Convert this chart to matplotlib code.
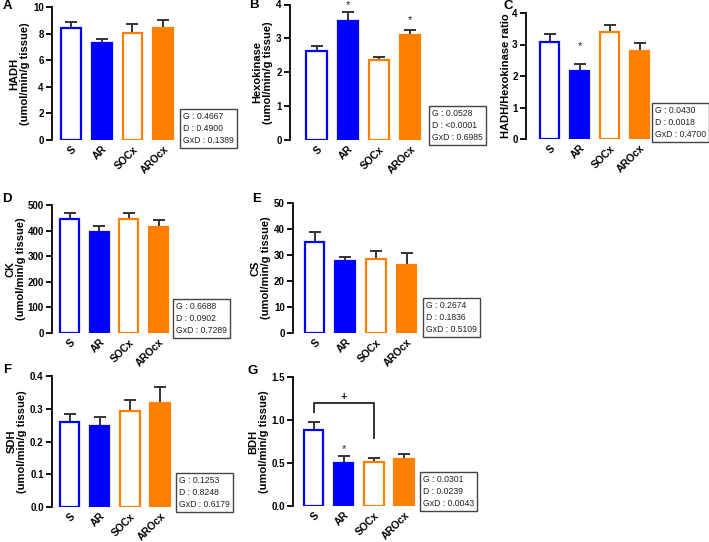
import numpy as np
import matplotlib
matplotlib.use("Agg")
import matplotlib.pyplot as plt

plt.rcParams['font.family'] = ['Liberation Sans', 'DejaVu Sans']
plt.rcParams['font.weight'] = 'bold'

# -----------------------------
# Data
# -----------------------------
groups = ['S', 'AR', 'SOCx', 'AROcx']

hadh = [8.42, 7.29, 8.05, 8.42]
hadh_err = [0.45, 0.30, 0.67, 0.60]
hexo = [2.63, 3.51, 2.36, 3.10]
hexo_err = [0.14, 0.27, 0.10, 0.16]
ratio = [3.09, 2.17, 3.39, 2.79]
ratio_err = [0.24, 0.20, 0.23, 0.27]
ck = [444, 396, 445, 413]
ck_err = [26, 23, 22, 28]
cs = [34.9, 27.8, 28.5, 26.0]
cs_err = [3.8, 1.3, 3.0, 4.6]
sdh = [0.259, 0.247, 0.293, 0.318]
sdh_err = [0.024, 0.028, 0.033, 0.047]
bdh = [0.88, 0.50, 0.508, 0.55]
bdh_err = [0.097, 0.085, 0.047, 0.05]

stats = {
    'A': ['0.4667', '0.4900', '0.1389'],
    'B': ['0.0528', '<0.0001', '0.6985'],
    'C': ['0.0430', '0.0018', '0.4700'],
    'D': ['0.6688', '0.0902', '0.7289'],
    'E': ['0.2674', '0.1836', '0.5109'],
    'F': ['0.1253', '0.8248', '0.6179'],
    'G': ['0.0301', '0.0239', '0.0043'],
}

# significance stars: panel -> list of (bar index, y)
stars = {'B': [(1, 3.98), (3, 3.55)], 'C': [(1, 2.95)], 'G': [(1, 0.66)]}

blue = '#0000FF'
orange = '#FF8000'
edge_cols = [blue, blue, orange, orange]
face_cols = ['white', blue, 'white', orange]

W, H = 709, 542
fig = plt.figure(figsize=(W / 100, H / 100), dpi=100)

# panel layout in pixels: yaxis x, first bar centre, pitch, top, bottom,
# stats box (left, top), panel letter (x, y), y label centre x
panels = [
    ('A', hadh, hadh_err, 'HADH\n(umol/min/g tissue)', (0, 10), 2, 52, 71, 30.7, 7, 140, (180, 109), (7, 6), 20),
    ('B', hexo, hexo_err, 'Hexokinase\n(umol/min/g tissue)', (0, 4), 1, 290, 316.5, 31.3, 4.5, 140, (429, 106), (254, 5), 263),
    ('C', ratio, ratio_err, 'HADH/Hexokinase ratio', (0, 4), 1, 526, 549.5, 30, 13, 139, (652, 103), (508, 6), 506),
    ('D', ck, ck_err, 'CK\n(umol/min/g tissue)', (0, 500), 100, 52, 69.5, 29.7, 205, 333, (173, 299), (7, 199), 16),
    ('E', cs, cs_err, 'CS\n(umol/min/g tissue)', (0, 50), 10, 293, 314.5, 30.7, 203, 333, (423, 298), (257, 199), 261),
    ('F', sdh, sdh_err, 'SDH\n(umol/min/g tissue)', (0, 0.4), 0.1, 52, 69.5, 30.2, 376, 507, (176, 473), (7, 370), 17),
    ('G', bdh, bdh_err, 'BDH\n(umol/min/g tissue)', (0, 1.5), 0.5, 293, 313.5, 30.2, 377, 506, (420, 472), (253, 371), 259),
]

x = np.arange(len(groups))
for (letter, vals, errs, ylab, ylim, step, yax, c0, pitch, top, bot,
     box, lab, ylx) in panels:
    x0 = -(c0 - yax) / pitch
    x1 = 3.5
    ax = fig.add_axes([yax / W, 1 - bot / H, (x1 - x0) * pitch / W, (bot - top) / H])
    ax.bar(x, vals, width=0.64, color=face_cols, edgecolor=edge_cols,
           linewidth=1.6, zorder=2)
    ax.errorbar(x, vals, yerr=[np.zeros(4), errs], fmt='none',
                ecolor='#333333', elinewidth=1.4, capsize=4.5, capthick=1.4,
                zorder=1)
    ax.set_xlim(x0, x1)
    ax.set_ylim(*ylim)
    ax.set_yticks(np.arange(ylim[0], ylim[1] + step / 2, step))
    if step < 1:
        ax.set_yticklabels(['%.1f' % t for t in ax.get_yticks()])
    ax.set_xticks(x)
    ax.set_xticklabels(groups, rotation=45, ha='right', rotation_mode='anchor')
    for s in ['top', 'right', 'bottom']:
        ax.spines[s].set_visible(False)
    ax.spines['left'].set_linewidth(1.3)
    ax.tick_params(axis='y', length=4, width=1.3, labelsize=7, pad=2)
    ax.tick_params(axis='x', length=0, labelsize=7.5, pad=3)

    fig.text(ylx / W, 1 - (top + bot) / 2 / H, ylab, rotation=90,
             ha='center', va='center', multialignment='center',
             fontsize=8, fontweight='bold', linespacing=1.1)

    for i, yv in stars.get(letter, []):
        ax.text(i, yv, '*', ha='center', va='center', fontsize=8,
                fontweight='normal', color='#222222')

    if letter == 'G':
        ax.plot([0, 0, 2, 2], [1.09, 1.20, 1.20, 0.79], color='#333333',
                lw=1.4, clip_on=False)
        ax.text(1, 1.27, '+', ha='center', va='center', fontsize=8,
                color='#222222')

    g, d, gd = stats[letter]
    fig.text((box[0] + 3) / W, 1 - (box[1] + 3) / H,
             'G : %s\nD : %s\nGxD : %s' % (g, d, gd),
             ha='left', va='top', fontsize=6.2, fontweight='normal',
             linespacing=1.4, color='#222222',
             bbox=dict(boxstyle='square,pad=0.35', fc='white', ec='#444444', lw=1.0))

    fig.text(lab[0] / W, 1 - lab[1] / H, letter, ha='center', va='center',
             fontsize=9.5, fontweight='bold')

fig.savefig('out.png', dpi=100)
